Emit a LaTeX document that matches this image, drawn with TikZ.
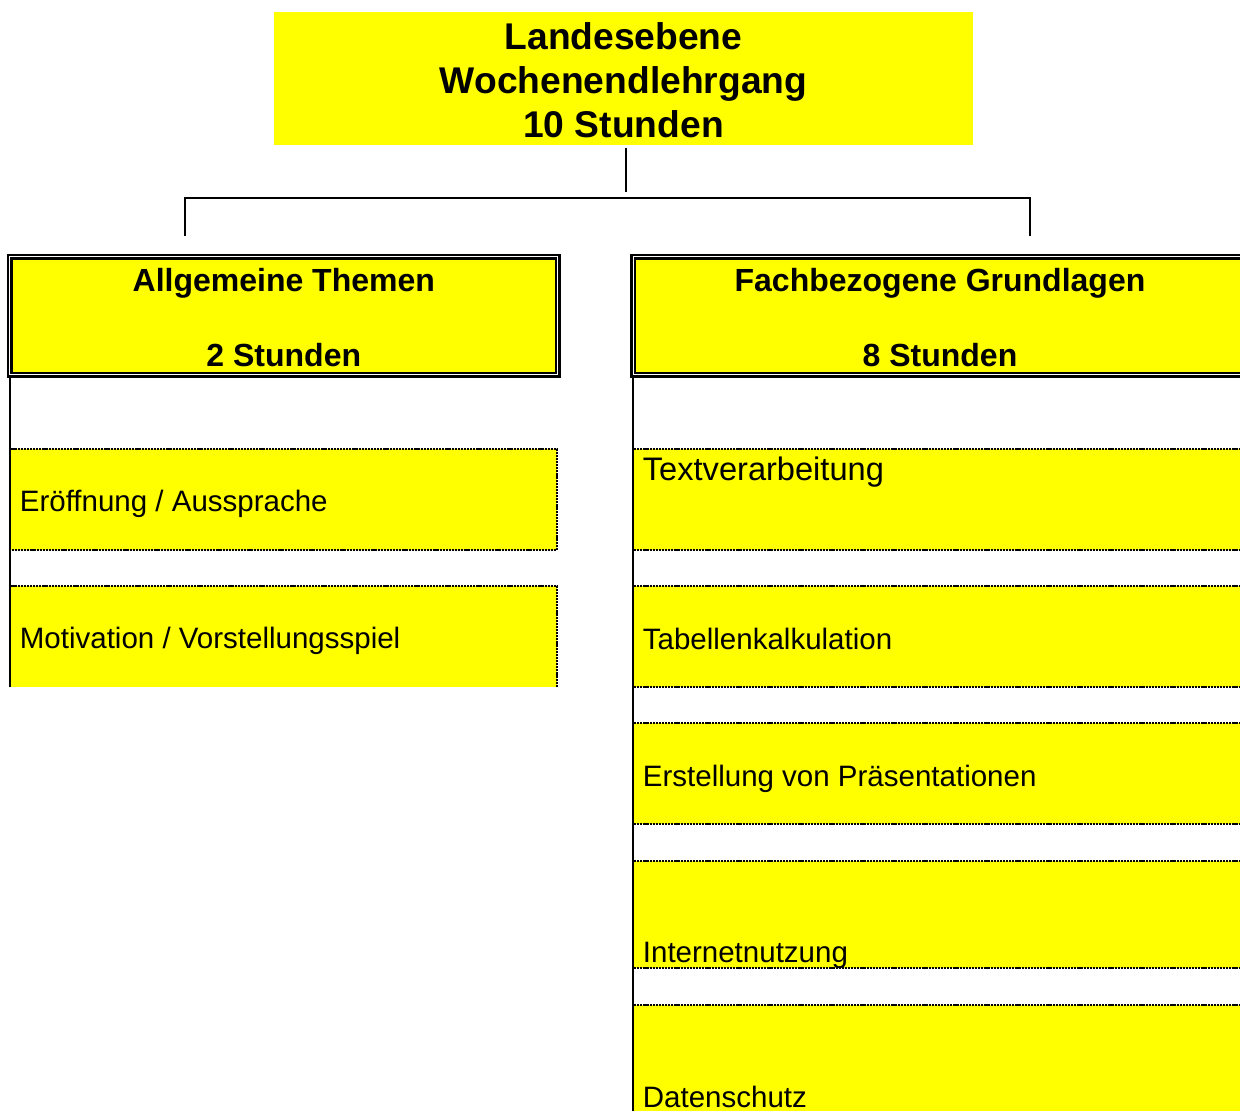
\documentclass[tikz,border=0pt]{standalone}
\usepackage{fontspec}
\setmainfont{Liberation Sans}
\definecolor{boxyellow}{RGB}{255,255,0}
\tikzset{
  conn/.style={line width=0.8pt},
  stem/.style={line width=1pt},
  topbox/.style={rectangle, fill=boxyellow, inner sep=0pt, outer sep=0pt, align=center,
    minimum width=349.5pt, minimum height=66.5pt, font=\fontsize{18.6}{22}\selectfont\bfseries},
  headbox/.style={rectangle, draw=black, double=white, line width=1.1pt, double distance=0.5pt,
    fill=boxyellow, inner sep=0pt, outer sep=0pt},
  subbox/.style={rectangle, fill=boxyellow, inner sep=0pt, outer sep=0pt},
  dotline/.style={line width=1.1pt, dash pattern=on 1.1pt off 0.45pt},
  headtxt/.style={font=\fontsize{16}{19}\selectfont\bfseries, inner sep=0pt, anchor=base},
  itemtxt/.style={font=\fontsize{14.75}{17}\selectfont, inner sep=0pt, anchor=base west},
  bigitemtxt/.style={font=\fontsize{16.3}{19}\selectfont, inner sep=0pt, anchor=base west},
}
\begin{document}
\begin{tikzpicture}[x=0.5pt,y=-0.5pt]
\useasboundingbox (0,0) rectangle (1240,1111);
\clip (0,0) rectangle (1240,1111);

% top box
\node[topbox] (top) at (623.5,78.5) {\rule{0pt}{15pt}Landesebene\\Wochenendlehrgang\\10 Stunden};

% connectors
\coordinate (stubtop) at (626,148);
\coordinate (stubend) at (626,192);
\coordinate (junction) at (626,198);
\coordinate (lstub) at (185,236);
\coordinate (rstub) at (1030,236);
\draw[conn] (stubtop) -- (stubend);
\draw[conn] (lstub) |- (junction) -| (rstub);

% left sub boxes
\node[subbox, minimum width=273pt, minimum height=50.5pt] (l1) at (284.3,499.5) {};
\node[subbox, minimum width=273pt, minimum height=50.5pt] (l2) at (284.3,636.5) {};
\draw[dotline] (l1.north west) -- (l1.north east) -- (l1.south east) -- (l1.south west);
\draw[dotline] (l2.north west) -- (l2.north east) -- (l2.south east);

% right sub boxes
\node[subbox, minimum width=308pt, minimum height=50.5pt] (r1) at (942,499.5) {};
\node[subbox, minimum width=308pt, minimum height=50.5pt] (r2) at (942,636.5) {};
\node[subbox, minimum width=308pt, minimum height=50.5pt] (r3) at (942,773.5) {};
\node[subbox, minimum width=308pt, minimum height=53.5pt] (r4) at (942,914.5) {};
\node[subbox, minimum width=308pt, minimum height=57.5pt] (r5) at (942,1062.5) {};
\foreach \b in {r1,r2,r3,r4,r5}{
  \draw[dotline] (\b.north west) -- (\b.north east);
  \draw[dotline] (\b.south west) -- (\b.south east);
}

% spines
\coordinate (lspinetop) at (10.3,377);
\coordinate (lspinebot) at (10.3,687);
\coordinate (rspinetop) at (633,377);
\coordinate (rspinebot) at (633,1111);
\draw[stem] (lspinetop) -- (lspinebot);
\draw[stem] (rspinetop) -- (rspinebot);

% header boxes
\node[headbox, minimum width=274pt, minimum height=59pt] (lhead) at (283.8,316) {};
\node[headbox, minimum width=307pt, minimum height=59pt] (rhead) at (940,316) {};

% header texts
\node[headtxt] (lheadA) at (283.8,292) {Allgemeine Themen};
\node[headtxt] (lheadB) at (283.8,367) {2 Stunden};
\node[headtxt] (rheadA) at (940,292) {Fachbezogene Grundlagen};
\node[headtxt] (rheadB) at (940,367) {8 Stunden};

% item texts
\node[itemtxt] (t1) at (19.5,512) {Eröffnung / Aussprache};
\node[itemtxt] (t2) at (19.5,648) {Motivation / Vorstellungsspiel};
\node[bigitemtxt] (t3) at (642.5,480.5) {Textverarbeitung};
\node[itemtxt] (t4) at (642.5,649) {Tabellenkalkulation};
\node[itemtxt] (t5) at (642.5,786) {Erstellung von Präsentationen};
\node[itemtxt] (t6) at (642.5,962) {Internetnutzung};
\node[itemtxt] (t7) at (642.5,1107) {Datenschutz};
\end{tikzpicture}
\end{document}
